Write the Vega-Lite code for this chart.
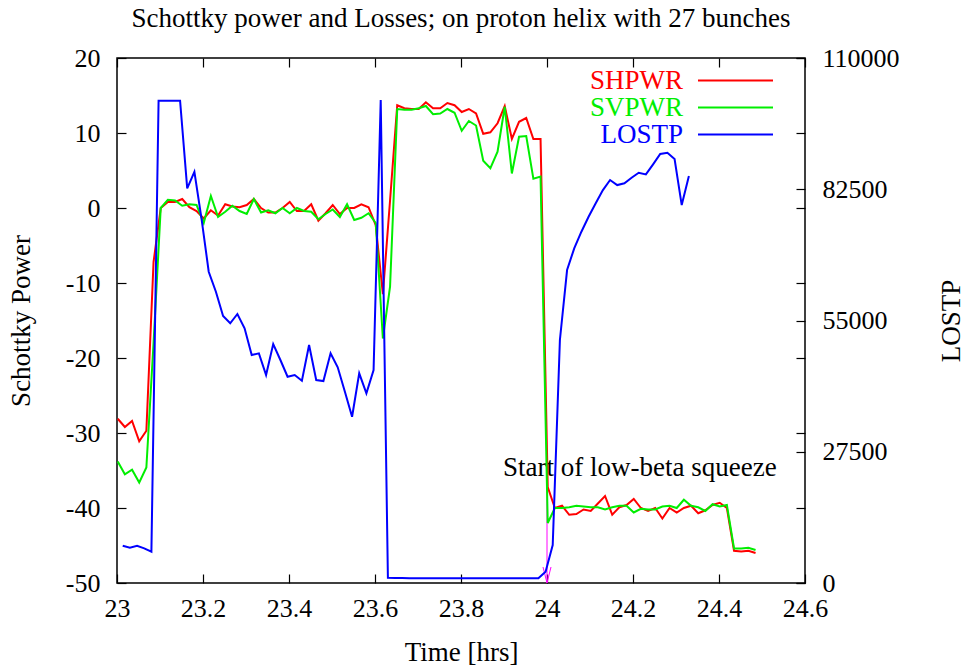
{
  "$schema": "https://vega.github.io/schema/vega-lite/v6.json",
  "width": 688,
  "height": 525,
  "autosize": {"type": "none"},
  "padding": {"left": 117, "top": 58, "right": 163, "bottom": 84},
  "background": "white",
  "title": {"text": "Schottky power and Losses; on proton helix with 27 bunches", "font": "Liberation Serif", "fontSize": 27, "fontWeight": "normal", "anchor": "middle", "offset": 12, "color": "black"},
  "config": {
    "view": {"stroke": "black", "strokeWidth": 1.5},
    "axis": {"grid": false, "domain": false, "labelFont": "Liberation Serif", "labelFontSize": 26, "labelColor": "black", "titleFont": "Liberation Serif", "titleFontSize": 27, "titleFontWeight": "normal", "titleColor": "black", "tickColor": "black", "tickSize": -9, "tickWidth": 1.2, "labelFlush": false, "labelOverlap": false}
  },
  "datasets": {
    "pwr": [
      {"t": 23.0017, "SHPWR": -28.1, "SVPWR": -33.8},
      {"t": 23.0183, "SHPWR": -29.2, "SVPWR": -35.5},
      {"t": 23.0350, "SHPWR": -28.4, "SVPWR": -34.9},
      {"t": 23.0517, "SHPWR": -31.1, "SVPWR": -36.6},
      {"t": 23.0683, "SHPWR": -29.7, "SVPWR": -34.6},
      {"t": 23.0850, "SHPWR": -7.2, "SVPWR": -18.0},
      {"t": 23.1017, "SHPWR": 0.0, "SVPWR": 0.0},
      {"t": 23.1183, "SHPWR": 0.8, "SVPWR": 1.1},
      {"t": 23.1350, "SHPWR": 0.8, "SVPWR": 1.0},
      {"t": 23.1517, "SHPWR": 1.2, "SVPWR": 0.3},
      {"t": 23.1683, "SHPWR": 0.1, "SVPWR": 0.5},
      {"t": 23.1850, "SHPWR": -0.4, "SVPWR": 0.4},
      {"t": 23.2017, "SHPWR": -1.4, "SVPWR": -2.0},
      {"t": 23.2183, "SHPWR": -0.3, "SVPWR": 1.6},
      {"t": 23.2350, "SHPWR": -1.0, "SVPWR": -1.2},
      {"t": 23.2517, "SHPWR": 0.5, "SVPWR": -0.5},
      {"t": 23.2683, "SHPWR": 0.2, "SVPWR": 0.3},
      {"t": 23.2850, "SHPWR": 0.1, "SVPWR": -0.4},
      {"t": 23.3017, "SHPWR": 0.4, "SVPWR": -0.8},
      {"t": 23.3183, "SHPWR": 1.2, "SVPWR": 1.2},
      {"t": 23.3350, "SHPWR": 0.0, "SVPWR": -0.6},
      {"t": 23.3517, "SHPWR": -0.6, "SVPWR": -0.3},
      {"t": 23.3683, "SHPWR": -0.6, "SVPWR": -0.7},
      {"t": 23.3850, "SHPWR": 0.0, "SVPWR": 0.0},
      {"t": 23.4017, "SHPWR": 0.8, "SVPWR": -0.7},
      {"t": 23.4183, "SHPWR": -0.4, "SVPWR": 0.0},
      {"t": 23.4350, "SHPWR": -0.4, "SVPWR": -0.4},
      {"t": 23.4517, "SHPWR": 0.5, "SVPWR": -0.5},
      {"t": 23.4683, "SHPWR": -1.7, "SVPWR": -1.5},
      {"t": 23.4850, "SHPWR": -0.7, "SVPWR": -0.8},
      {"t": 23.5017, "SHPWR": 0.4, "SVPWR": -0.2},
      {"t": 23.5183, "SHPWR": -0.8, "SVPWR": -1.2},
      {"t": 23.5350, "SHPWR": 0.0, "SVPWR": 0.5},
      {"t": 23.5517, "SHPWR": 0.0, "SVPWR": -1.6},
      {"t": 23.5683, "SHPWR": 0.5, "SVPWR": -1.3},
      {"t": 23.5850, "SHPWR": 0.1, "SVPWR": -0.7},
      {"t": 23.6017, "SHPWR": -2.3, "SVPWR": -2.0},
      {"t": 23.6183, "SHPWR": -11.5, "SVPWR": -17.4},
      {"t": 23.6350, "SHPWR": 1.0, "SVPWR": -10.5},
      {"t": 23.6517, "SHPWR": 13.7, "SVPWR": 13.2},
      {"t": 23.6683, "SHPWR": 13.3, "SVPWR": 13.1},
      {"t": 23.6850, "SHPWR": 13.2, "SVPWR": 13.1},
      {"t": 23.7017, "SHPWR": 13.2, "SVPWR": 13.3},
      {"t": 23.7183, "SHPWR": 14.1, "SVPWR": 13.6},
      {"t": 23.7350, "SHPWR": 13.3, "SVPWR": 12.5},
      {"t": 23.7517, "SHPWR": 13.3, "SVPWR": 12.6},
      {"t": 23.7683, "SHPWR": 14.0, "SVPWR": 13.2},
      {"t": 23.7850, "SHPWR": 13.7, "SVPWR": 12.7},
      {"t": 23.8017, "SHPWR": 12.8, "SVPWR": 10.3},
      {"t": 23.8183, "SHPWR": 13.2, "SVPWR": 11.6},
      {"t": 23.8350, "SHPWR": 12.6, "SVPWR": 11.0},
      {"t": 23.8517, "SHPWR": 9.9, "SVPWR": 6.3},
      {"t": 23.8683, "SHPWR": 10.1, "SVPWR": 5.3},
      {"t": 23.8850, "SHPWR": 11.3, "SVPWR": 7.5},
      {"t": 23.9017, "SHPWR": 13.6, "SVPWR": 13.5},
      {"t": 23.9183, "SHPWR": 9.2, "SVPWR": 4.6},
      {"t": 23.9350, "SHPWR": 11.5, "SVPWR": 9.5},
      {"t": 23.9517, "SHPWR": 12.0, "SVPWR": 9.6},
      {"t": 23.9683, "SHPWR": 9.2, "SVPWR": 3.9},
      {"t": 23.9850, "SHPWR": 9.2, "SVPWR": 4.2},
      {"t": 24.0017, "SHPWR": -37.2, "SVPWR": -42.0},
      {"t": 24.0183, "SHPWR": -40.0, "SVPWR": -40.0},
      {"t": 24.0350, "SHPWR": -39.7, "SVPWR": -40.0},
      {"t": 24.0517, "SHPWR": -40.9, "SVPWR": -39.9},
      {"t": 24.0683, "SHPWR": -40.8, "SVPWR": -39.7},
      {"t": 24.0850, "SHPWR": -40.2, "SVPWR": -39.8},
      {"t": 24.1017, "SHPWR": -40.4, "SVPWR": -39.9},
      {"t": 24.1183, "SHPWR": -39.4, "SVPWR": -39.9},
      {"t": 24.1350, "SHPWR": -38.4, "SVPWR": -40.2},
      {"t": 24.1517, "SHPWR": -40.9, "SVPWR": -39.9},
      {"t": 24.1683, "SHPWR": -39.9, "SVPWR": -39.7},
      {"t": 24.1850, "SHPWR": -39.6, "SVPWR": -39.7},
      {"t": 24.2017, "SHPWR": -38.8, "SVPWR": -40.6},
      {"t": 24.2183, "SHPWR": -40.0, "SVPWR": -40.1},
      {"t": 24.2350, "SHPWR": -40.4, "SVPWR": -40.2},
      {"t": 24.2517, "SHPWR": -40.0, "SVPWR": -40.2},
      {"t": 24.2683, "SHPWR": -41.4, "SVPWR": -39.8},
      {"t": 24.2850, "SHPWR": -40.0, "SVPWR": -39.7},
      {"t": 24.3017, "SHPWR": -40.6, "SVPWR": -40.0},
      {"t": 24.3183, "SHPWR": -40.0, "SVPWR": -38.9},
      {"t": 24.3350, "SHPWR": -39.7, "SVPWR": -39.7},
      {"t": 24.3517, "SHPWR": -40.7, "SVPWR": -39.9},
      {"t": 24.3683, "SHPWR": -40.3, "SVPWR": -40.4},
      {"t": 24.3850, "SHPWR": -39.6, "SVPWR": -39.5},
      {"t": 24.4017, "SHPWR": -39.3, "SVPWR": -39.8},
      {"t": 24.4183, "SHPWR": -40.0, "SVPWR": -39.6},
      {"t": 24.4350, "SHPWR": -45.7, "SVPWR": -45.4},
      {"t": 24.4517, "SHPWR": -45.8, "SVPWR": -45.4},
      {"t": 24.4683, "SHPWR": -45.7, "SVPWR": -45.3},
      {"t": 24.4850, "SHPWR": -46.0, "SVPWR": -45.6}
    ],
    "lostp": [
      {"t": 23.0133, "LOSTP": 7810},
      {"t": 23.0300, "LOSTP": 7400},
      {"t": 23.0467, "LOSTP": 7810},
      {"t": 23.0633, "LOSTP": 7270},
      {"t": 23.0800, "LOSTP": 6560},
      {"t": 23.0967, "LOSTP": 101040},
      {"t": 23.1133, "LOSTP": 101040},
      {"t": 23.1300, "LOSTP": 101040},
      {"t": 23.1467, "LOSTP": 101040},
      {"t": 23.1633, "LOSTP": 82690},
      {"t": 23.1800, "LOSTP": 86170},
      {"t": 23.1967, "LOSTP": 76260},
      {"t": 23.2133, "LOSTP": 65220},
      {"t": 23.2300, "LOSTP": 61030},
      {"t": 23.2467, "LOSTP": 55940},
      {"t": 23.2633, "LOSTP": 54410},
      {"t": 23.2800, "LOSTP": 56360},
      {"t": 23.2967, "LOSTP": 53360},
      {"t": 23.3133, "LOSTP": 47770},
      {"t": 23.3300, "LOSTP": 48120},
      {"t": 23.3467, "LOSTP": 43580},
      {"t": 23.3633, "LOSTP": 50070},
      {"t": 23.3800, "LOSTP": 46720},
      {"t": 23.3967, "LOSTP": 43220},
      {"t": 23.4133, "LOSTP": 43580},
      {"t": 23.4300, "LOSTP": 42380},
      {"t": 23.4467, "LOSTP": 49860},
      {"t": 23.4633, "LOSTP": 42530},
      {"t": 23.4800, "LOSTP": 42320},
      {"t": 23.4967, "LOSTP": 48120},
      {"t": 23.5133, "LOSTP": 45190},
      {"t": 23.5300, "LOSTP": 40080},
      {"t": 23.5467, "LOSTP": 34840},
      {"t": 23.5633, "LOSTP": 43930},
      {"t": 23.5800, "LOSTP": 39740},
      {"t": 23.5967, "LOSTP": 44620},
      {"t": 23.6133, "LOSTP": 101190},
      {"t": 23.6300, "LOSTP": 1080},
      {"t": 23.6467, "LOSTP": 1040},
      {"t": 23.6633, "LOSTP": 1050},
      {"t": 23.6800, "LOSTP": 1000},
      {"t": 23.6967, "LOSTP": 1020},
      {"t": 23.7133, "LOSTP": 990},
      {"t": 23.7300, "LOSTP": 1010},
      {"t": 23.7467, "LOSTP": 1000},
      {"t": 23.7633, "LOSTP": 980},
      {"t": 23.7800, "LOSTP": 1000},
      {"t": 23.7967, "LOSTP": 1010},
      {"t": 23.8133, "LOSTP": 990},
      {"t": 23.8300, "LOSTP": 1000},
      {"t": 23.8467, "LOSTP": 980},
      {"t": 23.8633, "LOSTP": 1000},
      {"t": 23.8800, "LOSTP": 990},
      {"t": 23.8967, "LOSTP": 1000},
      {"t": 23.9133, "LOSTP": 980},
      {"t": 23.9300, "LOSTP": 990},
      {"t": 23.9467, "LOSTP": 1000},
      {"t": 23.9633, "LOSTP": 990},
      {"t": 23.9800, "LOSTP": 1010},
      {"t": 23.9967, "LOSTP": 2370},
      {"t": 24.0133, "LOSTP": 7960},
      {"t": 24.0300, "LOSTP": 50910},
      {"t": 24.0467, "LOSTP": 65570},
      {"t": 24.0633, "LOSTP": 70120},
      {"t": 24.0800, "LOSTP": 73600},
      {"t": 24.0967, "LOSTP": 76740},
      {"t": 24.1133, "LOSTP": 79550},
      {"t": 24.1300, "LOSTP": 82330},
      {"t": 24.1467, "LOSTP": 84430},
      {"t": 24.1633, "LOSTP": 83380},
      {"t": 24.1800, "LOSTP": 83740},
      {"t": 24.1967, "LOSTP": 84910},
      {"t": 24.2133, "LOSTP": 85960},
      {"t": 24.2300, "LOSTP": 85620},
      {"t": 24.2467, "LOSTP": 87710},
      {"t": 24.2633, "LOSTP": 89880},
      {"t": 24.2800, "LOSTP": 90150},
      {"t": 24.2967, "LOSTP": 88830},
      {"t": 24.3133, "LOSTP": 79190},
      {"t": 24.3300, "LOSTP": 85270}
    ]
  },
  "layer": [
    {
      "data": {"values": [{}]},
      "layer": [
        {
          "mark": {"type": "rule", "color": "#ff00ff", "strokeWidth": 1},
          "encoding": {
            "x": {"datum": 24, "type": "quantitative", "scale": {"domain": [23, 24.6], "nice": false, "zero": false},
                  "axis": {"orient": "top", "labels": false, "title": null, "values": [23, 23.2, 23.4, 23.6, 23.8, 24, 24.2, 24.4, 24.6]}},
            "y": {"datum": -37, "type": "quantitative", "scale": {"domain": [-50, 20], "nice": false, "zero": false},
                  "axis": {"orient": "right", "labels": false, "title": null, "values": [-50, -40, -30, -20, -10, 0, 10, 20]}},
            "y2": {"datum": -50}
          }
        },
        {
          "mark": {"type": "point", "shape": "M-0.25,-1L0,0L0.25,-1", "size": 1024, "filled": false, "stroke": "#ff00ff", "strokeWidth": 1, "opacity": 1},
          "encoding": {
            "x": {"datum": 24, "type": "quantitative"},
            "y": {"datum": -50, "type": "quantitative"}
          }
        },
        {
          "mark": {"type": "text", "font": "Liberation Serif", "fontSize": 27, "color": "black", "align": "center", "baseline": "middle"},
          "encoding": {
            "x": {"datum": 24.216, "type": "quantitative"},
            "y": {"datum": -34.7, "type": "quantitative"},
            "text": {"value": "Start of low-beta squeeze"}
          }
        }
      ]
    },
    {
      "data": {"name": "pwr"},
      "transform": [{"fold": ["SHPWR", "SVPWR"], "as": ["series", "value"]}],
      "mark": {"type": "line", "strokeWidth": 2},
      "encoding": {
        "x": {"field": "t", "type": "quantitative", "scale": {"domain": [23, 24.6], "nice": false, "zero": false},
              "axis": {"orient": "bottom", "title": "Time [hrs]", "values": [23, 23.2, 23.4, 23.6, 23.8, 24, 24.2, 24.4, 24.6], "format": "~g", "labelPadding": 21, "titlePadding": 18}},
        "y": {"field": "value", "type": "quantitative", "scale": {"domain": [-50, 20], "nice": false, "zero": false},
              "axis": {"orient": "left", "title": "Schottky Power", "values": [-50, -40, -30, -20, -10, 0, 10, 20], "labelExpr": "'' + datum.value", "labelPadding": 26, "titlePadding": 30}},
        "color": {"field": "series", "type": "nominal",
                  "scale": {"domain": ["SHPWR", "SVPWR", "LOSTP"], "range": ["#ff0000", "#00ee00", "#0000ff"]},
                  "legend": {"orient": "none", "legendX": 605, "legendY": 9, "title": null, "symbolType": "M-5,0H5", "symbolSize": 225, "symbolStrokeWidth": 2, "rowPadding": -1, "padding": 0, "labelAlign": "right", "labelOffset": -66, "labelFont": "Liberation Serif", "labelFontSize": 27, "labelLimit": 0,
                             "labelColor": {"expr": "datum.value === 'SHPWR' ? '#ff0000' : datum.value === 'SVPWR' ? '#00ee00' : '#0000ff'"}}}
      }
    },
    {
      "data": {"name": "lostp"},
      "transform": [{"fold": ["LOSTP"], "as": ["series", "value"]}],
      "mark": {"type": "line", "strokeWidth": 2},
      "encoding": {
        "x": {"field": "t", "type": "quantitative", "scale": {"domain": [23, 24.6], "nice": false, "zero": false}, "axis": null},
        "y": {"field": "value", "type": "quantitative", "scale": {"domain": [0, 110000], "nice": false, "zero": false},
              "axis": {"orient": "right", "title": "LOSTP", "titleAngle": 270, "values": [0, 27500, 55000, 82500, 110000], "format": "d", "labelPadding": 26, "titlePadding": 66}},
        "color": {"field": "series", "type": "nominal"}
      }
    }
  ],
  "resolve": {"scale": {"x": "independent", "y": "independent", "color": "shared"}}
}
